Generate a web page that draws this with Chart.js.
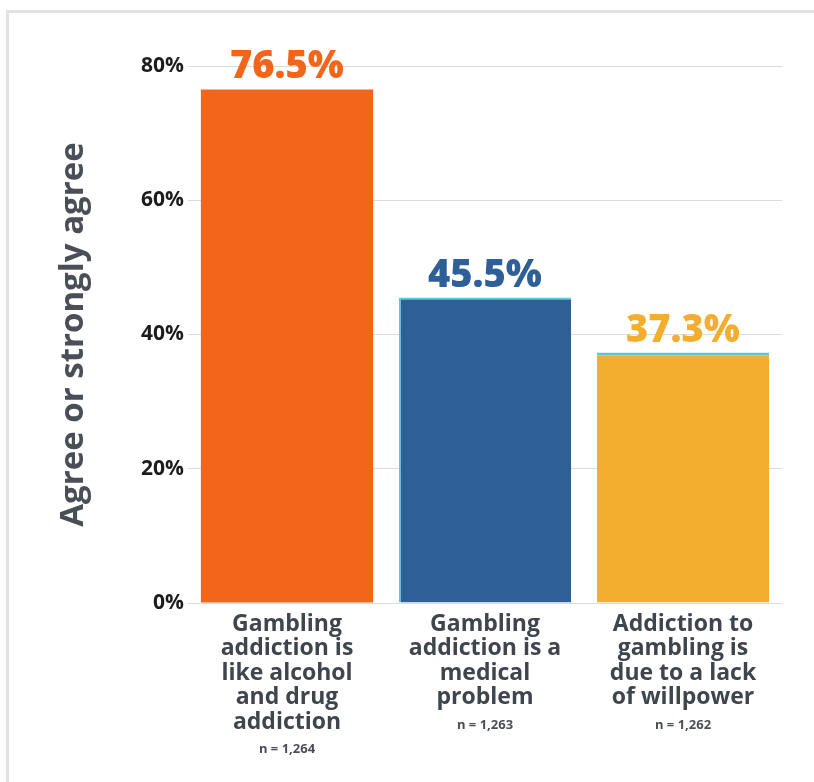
<!DOCTYPE html>
<html>
<head>
<meta charset="utf-8">
<script src="https://cdn.jsdelivr.net/npm/chart.js@4.4.1/dist/chart.umd.min.js"></script>
<style>
    html, body { margin: 0; padding: 0; background: #ffffff; }
    body { width: 814px; height: 782px; position: relative; overflow: hidden; }
    #frame {
        position: absolute;
        left: 6px;
        top: 10px;
        width: 805px;
        height: 769px;
        border-left: 3px solid #e2e2e2;
        border-top: 3px solid #e2e2e2;
    }
    canvas { display: block; }
</style>
</head>
<body>
<div id="frame"><canvas id="chart" width="805" height="769"></canvas></div>
<script>
// Данные графика
const categories = [
    ['Gambling', 'addiction is', 'like alcohol', 'and drug', 'addiction'],
    ['Gambling', 'addiction is a', 'medical', 'problem'],
    ['Addiction to', 'gambling is', 'due to a lack', 'of willpower']
];
const sampleSizes = ['n = 1,264', 'n = 1,263', 'n = 1,262'];
const agreeValues = [76.5, 45.5, 37.3];
const yTicks = [0, 20, 40, 60, 80];

const barColors = ['#f2661c', '#2e5f96', '#f3ae30'];
const edgeColor = '#5cc6dc';
const fontFamily = '"Open Sans", "Noto Sans", sans-serif';
const labelLineHeight = 24.5;

// Подписи значений над столбцами и размер выборки под категориями
const labelsPlugin = {
    id: 'labels',
    afterDatasetsDraw(chart) {
        const ctx = chart.ctx;
        const meta = chart.getDatasetMeta(0);
        ctx.save();
        ctx.textAlign = 'center';
        ctx.textBaseline = 'alphabetic';
        ctx.font = '800 38px ' + fontFamily;
        meta.data.forEach((bar, i) => {
            ctx.fillStyle = barColors[i];
            ctx.fillText(agreeValues[i].toFixed(1) + '%', bar.x, bar.y - 11);
        });

        const xScale = chart.scales.x;
        ctx.font = 'bold 13px ' + fontFamily;
        ctx.fillStyle = '#4a4f57';
        ctx.textBaseline = 'middle';
        sampleSizes.forEach((n, i) => {
            const x = xScale.getPixelForValue(i);
            const y = chart.chartArea.bottom + 9 + categories[i].length * labelLineHeight + 15;
            ctx.fillText(n, x, y);
        });
        ctx.restore();
    }
};

new Chart(document.getElementById('chart'), {
    type: 'bar',
    data: {
        labels: categories,
        datasets: [{
            data: agreeValues,
            backgroundColor: barColors,
            borderColor: [barColors[0], edgeColor, edgeColor],
            borderWidth: [0, { top: 2, left: 2 }, { top: 3 }],
            borderSkipped: 'bottom',
            barPercentage: 0.87,
            categoryPercentage: 1.0
        }]
    },
    options: {
        responsive: false,
        animation: false,
        layout: {
            padding: { top: 53, right: 32, bottom: 0, left: 0 }
        },
        plugins: {
            legend: { display: false },
            tooltip: { enabled: false }
        },
        scales: {
            x: {
                grid: { display: false, drawTicks: false },
                border: { display: false },
                ticks: {
                    color: '#3f454c',
                    padding: 9,
                    autoSkip: false,
                    maxRotation: 0,
                    font: { family: fontFamily, size: 23, weight: 'bold', lineHeight: labelLineHeight / 23 }
                },
                afterFit(scale) { scale.height = 179; }
            },
            y: {
                min: 0,
                max: 80,
                afterBuildTicks(scale) {
                    scale.ticks = yTicks.map(v => ({ value: v }));
                },
                grid: { color: '#dcdcdc', lineWidth: 1, drawTicks: false },
                border: { display: false },
                ticks: {
                    color: '#1c1c1c',
                    padding: 4,
                    font: { family: fontFamily, size: 21, weight: 'bold' },
                    callback: v => v + '%'
                },
                title: {
                    display: true,
                    text: 'Agree or strongly agree',
                    color: '#4a4f57',
                    padding: { top: 45, bottom: 0 },
                    font: { family: fontFamily, size: 33, weight: 'bold', lineHeight: 1.2 }
                },
                afterFit(scale) { scale.width = 179; }
            }
        }
    },
    plugins: [labelsPlugin]
});
</script>
</body>
</html>
